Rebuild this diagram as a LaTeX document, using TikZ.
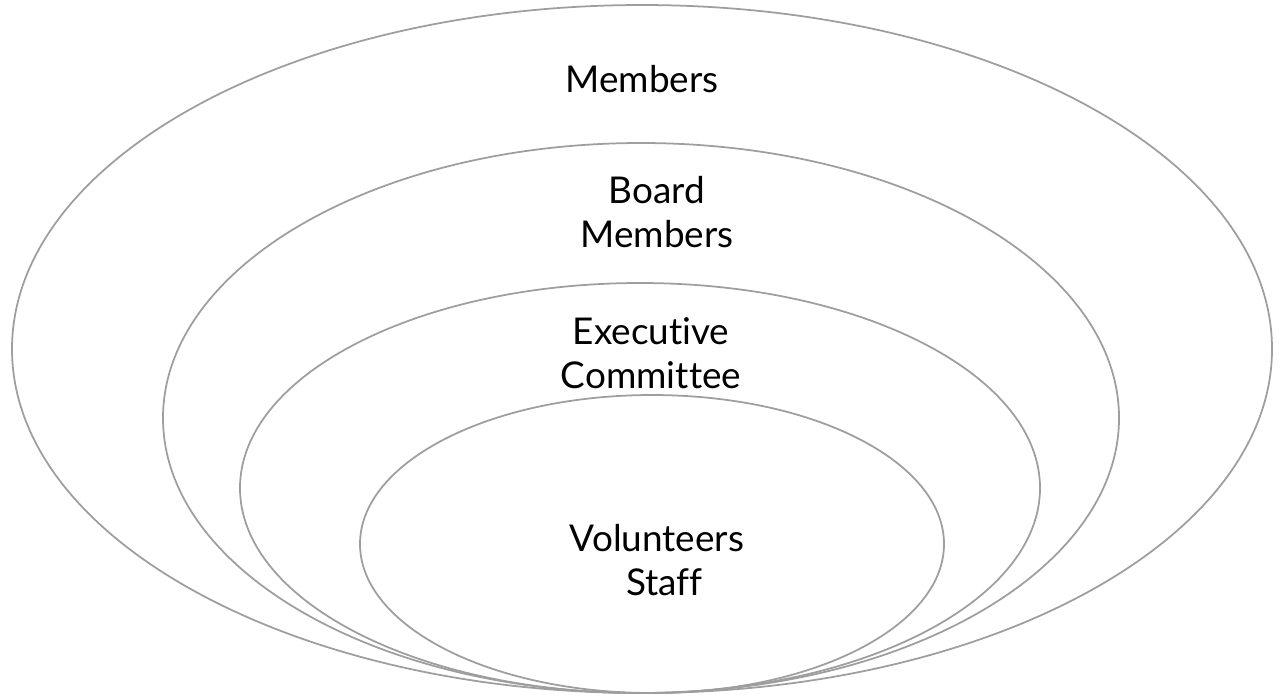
\documentclass[tikz,border=0pt]{standalone}
\usepackage{fontspec}
\setmainfont{Lato}[Ligatures=NoCommon]
\begin{document}
\begin{tikzpicture}[x=0.02cm, y=-0.02cm,
    ring/.style={draw=black!38, line width=1pt},
    label/.style={align=center, font=\fontsize{21}{25}\selectfont, inner sep=0pt}]
            \useasboundingbox (0, 0) rectangle (1283, 698);
            % rings, all touching at the bottom
            \draw[ring] (642, 349) ellipse [x radius=630, y radius=344];
            \draw[ring] (641, 418) ellipse [x radius=478, y radius=275];
            \draw[ring] (640, 488) ellipse [x radius=400, y radius=205];
            \draw[ring] (652, 544) ellipse [x radius=292, y radius=149];
            % labels (base = baseline of the last line)
            \node[label, anchor=base] (members) at (642, 92) {Members};
            \node[label, anchor=base] (board) at (657, 247) {Board\\Members};
            \node[label, anchor=base] (exec) at (651, 388) {Executive\\Committee};
            \node[label, anchor=base] (vol) at (657, 595) {Volunteers\\\hspace{0.4em}Staff};
        \end{tikzpicture}
\end{document}
